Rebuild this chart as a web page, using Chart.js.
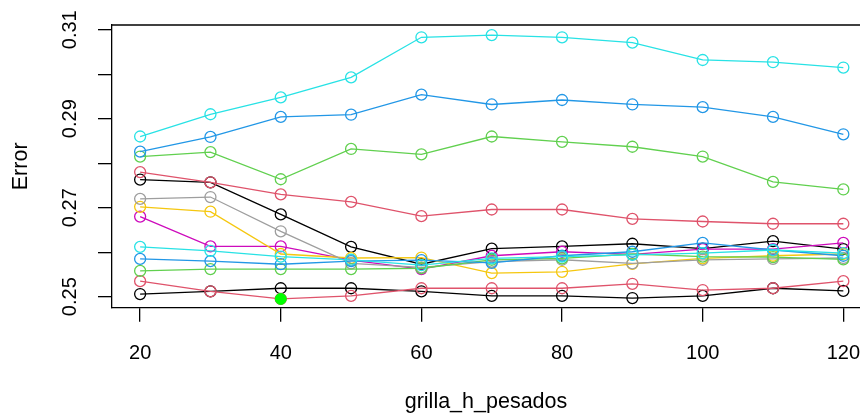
<!DOCTYPE html>
<html>
<head>
<meta charset="utf-8">
<script src="https://cdn.jsdelivr.net/npm/chart.js@4.4.1/dist/chart.umd.min.js"></script>
<style>
    html, body { margin: 0; padding: 0; background: #ffffff; }
</style>
</head>
<body>
<canvas id="myChart" width="860" height="415"></canvas>
<script>
// grilla_h_pesados values
const xValues = [20, 30, 40, 50, 60, 70, 80, 90, 100, 110, 120];
const xTicks = [20, 40, 60, 80, 100, 120];
const yTicks = [0.25, 0.26, 0.27, 0.28, 0.29, 0.30, 0.31];
const yLabelled = ["0.25", "0.27", "0.29", "0.31"];

// one curve per setting
const serieBlackHigh = [0.2763, 0.2757, 0.2685, 0.2612, 0.2573, 0.2608, 0.2613, 0.2619, 0.2608, 0.2625, 0.2607];
const serieRedHigh = [0.2780, 0.2757, 0.2730, 0.2713, 0.2681, 0.2696, 0.2696, 0.2675, 0.2669, 0.2664, 0.2664];
const serieGreenHigh = [0.2815, 0.2825, 0.2764, 0.2832, 0.2820, 0.2860, 0.2848, 0.2837, 0.2815, 0.2758, 0.2741];
const serieBlueHigh = [0.2826, 0.2859, 0.2904, 0.2909, 0.2954, 0.2932, 0.2942, 0.2932, 0.2926, 0.2904, 0.2865];
const serieCyanHigh = [0.2860, 0.2910, 0.2948, 0.2993, 0.3083, 0.3088, 0.3083, 0.3071, 0.3032, 0.3027, 0.3015];
const serieMagenta = [0.2680, 0.2613, 0.2613, 0.2582, 0.2562, 0.2592, 0.2601, 0.2595, 0.2607, 0.2607, 0.2621];
const serieYellow = [0.2702, 0.2691, 0.2596, 0.2587, 0.2588, 0.2553, 0.2556, 0.2574, 0.2586, 0.2592, 0.2596];
const serieGray = [0.2720, 0.2724, 0.2647, 0.2575, 0.2566, 0.2579, 0.2583, 0.2575, 0.2583, 0.2585, 0.2587];
const serieBlackLow = [0.2506, 0.2512, 0.2519, 0.2519, 0.2512, 0.2502, 0.2502, 0.2497, 0.2502, 0.2519, 0.2513];
const serieRedLow = [0.2535, 0.2512, 0.2495, 0.2502, 0.2519, 0.2519, 0.2519, 0.2529, 0.2515, 0.2519, 0.2535];
const serieGreenLow = [0.2558, 0.2562, 0.2562, 0.2562, 0.2564, 0.2583, 0.2586, 0.2596, 0.2590, 0.2589, 0.2584];
const serieBlueLow = [0.2585, 0.2580, 0.2573, 0.2580, 0.2582, 0.2576, 0.2592, 0.2601, 0.2621, 0.2605, 0.2592];
const serieCyanLow = [0.2612, 0.2603, 0.2590, 0.2583, 0.2571, 0.2586, 0.2590, 0.2594, 0.2598, 0.2605, 0.2598];

// best value, drawn as a filled dot
const bestX = [40];
const bestY = [0.2495];

const series = [serieBlackHigh, serieRedHigh, serieGreenHigh, serieBlueHigh, serieCyanHigh,
    serieMagenta, serieYellow, serieGray,
    serieBlackLow, serieRedLow, serieGreenLow, serieBlueLow, serieCyanLow];
const lineColors = ["#000000", "#DF536B", "#61D04F", "#2297E6", "#28E2E5", "#CD0BBC", "#F5C710", "#9E9E9E",
    "#000000", "#DF536B", "#61D04F", "#2297E6", "#28E2E5"];

// later curves go on top, like in R
const datasets = series.map(function (serie, i) {
    return {
        data: xValues.map((x, j) => ({ x: x, y: serie[j] })),
        order: -i,
        borderColor: lineColors[i],
        borderWidth: 1.3,
        pointRadius: 5.5,
        pointBorderWidth: 1.3,
        pointBorderColor: lineColors[i],
        pointBackgroundColor: "rgba(0,0,0,0)",
        tension: 0
    };
});
datasets.push({
    data: bestX.map((x, j) => ({ x: x, y: bestY[j] })),
    order: -100,
    showLine: false,
    pointRadius: 5.5,
    pointBorderWidth: 1,
    pointBorderColor: "#00FF00",
    pointBackgroundColor: "#00FF00"
});

// top edge of the plot box
const topBox = {
    id: "topBox",
    afterDraw(chart) {
        const ctx = chart.ctx;
        const area = chart.chartArea;
        ctx.save();
        ctx.strokeStyle = "#000";
        ctx.lineWidth = 1.3;
        ctx.beginPath();
        ctx.moveTo(area.left, area.top);
        ctx.lineTo(chart.width, area.top);
        ctx.stroke();
        ctx.restore();
    }
};

Chart.defaults.color = "#000";
Chart.defaults.font.family = "'Liberation Sans', Arial, sans-serif";

new Chart("myChart", {
    type: "line",
    data: { datasets: datasets },
    plugins: [topBox],
    options: {
        responsive: false,
        animation: false,
        layout: { autoPadding: false, padding: { top: 25, left: 0, right: 0, bottom: 0 } },
        plugins: {
            legend: { display: false },
            tooltip: { enabled: false }
        },
        scales: {
            x: {
                type: "linear",
                min: 16,
                max: 122.37,
                afterBuildTicks: function (axis) {
                    axis.ticks = xTicks.map(v => ({ value: v }));
                },
                afterFit: function (axis) {
                    axis.height = 107.3;
                    axis.paddingLeft = 0;
                    axis.paddingRight = 0;
                },
                grid: { drawOnChartArea: false, drawTicks: true, tickLength: 14, color: "#000", lineWidth: 1.3 },
                border: { display: true, color: "#000", width: 1.3 },
                ticks: { font: { size: 20 }, padding: 20, maxRotation: 0, autoSkip: false },
                title: { display: true, text: "grilla_h_pesados", font: { size: 21.5 }, padding: { top: 0, bottom: 0 } }
            },
            y: {
                min: 0.24753,
                max: 0.31106,
                afterBuildTicks: function (axis) {
                    axis.ticks = yTicks.map(v => ({ value: v }));
                },
                afterFit: function (axis) {
                    axis.width = 112;
                    axis.paddingTop = 0;
                    axis.paddingBottom = 0;
                },
                grid: { drawOnChartArea: false, drawTicks: true, tickLength: 14, color: "#000", lineWidth: 1.3 },
                border: { display: true, color: "#000", width: 1.3 },
                ticks: {
                    font: { size: 20 },
                    padding: 8,
                    minRotation: 90,
                    maxRotation: 90,
                    crossAlign: "center",
                    autoSkip: false,
                    callback: function (value) {
                        const txt = value.toFixed(2);
                        return yLabelled.includes(txt) ? txt : "";
                    }
                },
                title: { display: true, text: "Error", font: { size: 21.5 }, padding: { top: 8, bottom: 0 } }
            }
        }
    }
});
</script>
</body>
</html>
